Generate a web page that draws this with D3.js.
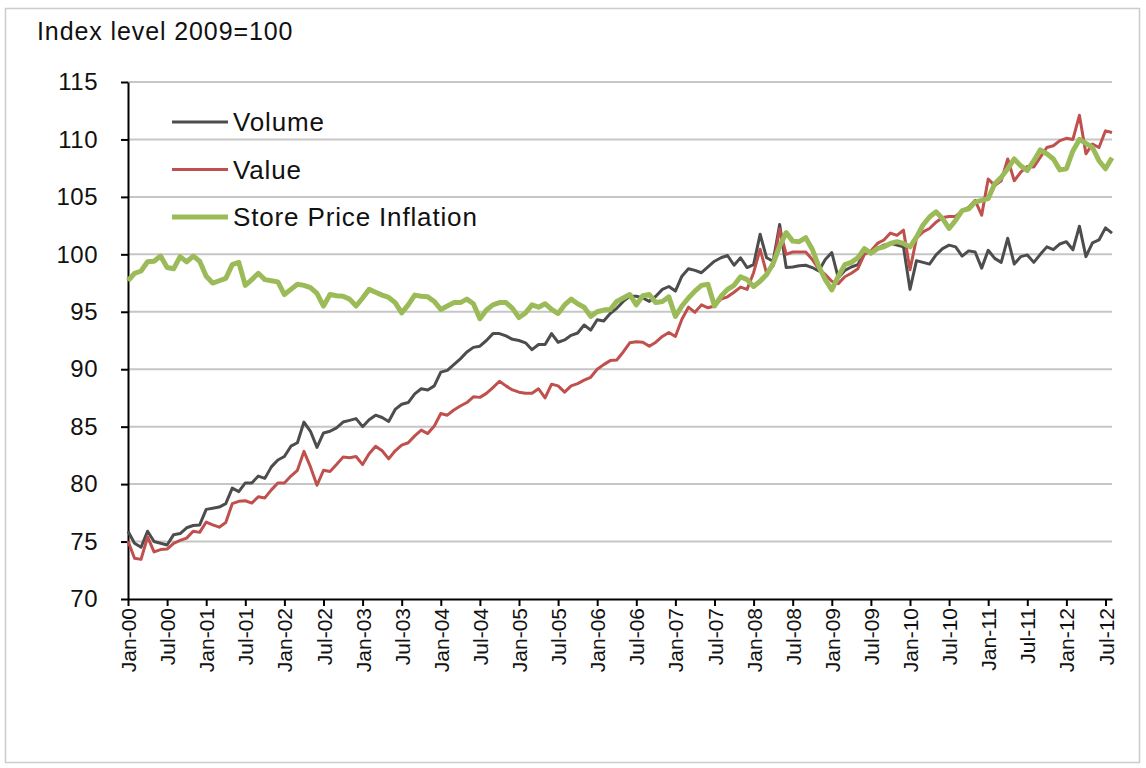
<!DOCTYPE html>
<html>
<head>
<meta charset="utf-8">
<script src="https://cdn.jsdelivr.net/npm/d3@7"></script>
<style>
  body { margin: 0; background: #fff; }
  svg { display: block; font-family: "Liberation Sans", Arial, sans-serif; }
</style>
</head>
<body>
<svg id="chart" width="1146" height="768"></svg>
<script>
// monthly index values, Jan-00 .. Aug-12
const years = ["00","01","02","03","04","05","06","07","08","09","10","11","12"];
const monthNames = ["Jan","Feb","Mar","Apr","May","Jun","Jul","Aug","Sep","Oct","Nov","Dec"];
const tickLabels = ["Jan-00","Jul-00","Jan-01","Jul-01","Jan-02","Jul-02","Jan-03","Jul-03",
  "Jan-04","Jul-04","Jan-05","Jul-05","Jan-06","Jul-06","Jan-07","Jul-07","Jan-08","Jul-08",
  "Jan-09","Jul-09","Jan-10","Jul-10","Jan-11","Jul-11","Jan-12","Jul-12"];
const yTicks = [70, 75, 80, 85, 90, 95, 100, 105, 110, 115];
const seriesNames = ["Volume", "Value", "Store Price Inflation"];

const volume = [
  75.9,74.85,74.5,75.9,75.0,74.85,74.7,75.6,75.7,76.2,76.4,76.45,
  77.8,77.9,78.0,78.3,79.65,79.35,80.1,80.1,80.7,80.5,81.5,82.1,
  82.4,83.3,83.6,85.4,84.6,83.2,84.45,84.6,84.9,85.4,85.55,85.7,
  85.0,85.6,86.0,85.8,85.45,86.5,86.95,87.1,87.85,88.3,88.2,88.55,
  89.75,89.9,90.4,90.9,91.5,91.9,92.0,92.5,93.1,93.1,92.9,92.6,
  92.5,92.3,91.7,92.15,92.15,93.1,92.35,92.55,92.95,93.15,93.85,93.4,
  94.3,94.2,94.85,95.3,95.9,96.35,96.35,96.2,95.9,96.35,96.95,97.2,
  96.8,98.1,98.75,98.6,98.4,98.9,99.4,99.7,99.9,99.05,99.7,98.85,
  99.1,101.75,99.7,99.4,102.6,98.85,98.9,99.0,99.05,98.85,98.55,99.55,
  100.15,97.95,98.6,98.9,99.1,100.2,100.2,100.5,100.8,100.95,100.8,100.65,
  96.95,99.45,99.3,99.15,99.95,100.5,100.8,100.65,99.85,100.3,100.2,98.8,
  100.35,99.65,99.3,101.4,99.15,99.8,99.95,99.3,100.0,100.65,100.4,100.9,
  101.1,100.4,102.45,99.8,101.0,101.25,102.3,101.85
];

const value = [
  75.05,73.55,73.45,75.4,74.1,74.3,74.35,74.85,75.1,75.3,75.9,75.8,
  76.7,76.45,76.25,76.65,78.3,78.5,78.55,78.35,78.9,78.8,79.5,80.1,
  80.1,80.7,81.2,82.85,81.5,79.9,81.2,81.1,81.7,82.35,82.3,82.4,
  81.7,82.65,83.3,82.9,82.2,82.9,83.4,83.6,84.2,84.7,84.4,85.05,
  86.15,86.0,86.45,86.8,87.1,87.6,87.55,87.9,88.4,88.95,88.55,88.2,
  88.0,87.9,87.9,88.3,87.5,88.7,88.55,88.0,88.55,88.75,89.05,89.3,
  90.0,90.4,90.75,90.8,91.5,92.3,92.4,92.35,92.0,92.35,92.85,93.2,
  92.85,94.35,95.4,94.95,95.6,95.35,95.5,96.1,96.3,96.7,97.15,96.95,
  98.4,100.45,98.35,99.0,102.2,100.0,100.2,100.2,100.2,99.55,98.7,98.25,
  97.65,97.45,98.05,98.35,98.75,100.0,100.3,100.95,101.25,101.85,101.65,102.1,
  98.65,101.4,101.95,102.25,102.8,103.2,103.3,103.3,103.8,104.1,104.7,103.4,
  106.55,106.0,106.4,108.3,106.4,107.15,107.65,107.6,108.45,109.3,109.45,109.9,
  110.1,110.0,112.1,108.75,109.6,109.3,110.75,110.6
];

const storePriceInflation = [
  97.7,98.35,98.55,99.35,99.4,99.85,98.85,98.75,99.8,99.35,99.85,99.4,
  98.1,97.5,97.7,97.9,99.1,99.3,97.3,97.8,98.35,97.8,97.7,97.6,
  96.5,96.95,97.4,97.3,97.1,96.6,95.5,96.5,96.4,96.35,96.1,95.5,
  96.2,96.95,96.7,96.45,96.25,95.8,94.9,95.6,96.45,96.35,96.3,95.9,
  95.2,95.5,95.8,95.8,96.1,95.7,94.4,95.15,95.6,95.8,95.8,95.3,
  94.5,94.9,95.6,95.4,95.7,95.2,94.85,95.6,96.1,95.7,95.4,94.6,
  95.0,95.15,95.2,95.9,96.2,96.5,95.6,96.4,96.5,95.8,95.9,96.3,
  94.6,95.5,96.2,96.8,97.3,97.4,95.5,96.35,96.95,97.3,98.05,97.8,
  97.2,97.65,98.25,99.2,100.7,101.9,101.15,101.1,101.45,100.45,98.95,97.8,
  96.9,98.1,99.1,99.3,99.7,100.5,100.1,100.5,100.65,100.95,101.1,100.95,
  100.65,101.5,102.55,103.25,103.7,103.1,102.25,102.95,103.8,103.95,104.55,104.7,
  104.85,106.15,106.7,107.45,108.3,107.7,107.3,108.15,109.1,108.75,108.3,107.35,
  107.45,109.0,110.0,109.65,109.3,108.15,107.45,108.4
];

// month categories
const months = [];
years.forEach(function (yr) {
  monthNames.forEach(function (m) { months.push(m + "-" + yr); });
});
months.length = volume.length;

const colors = ["#4d4d4d", "#c0504d", "#9bbb59"];
const widths = [3, 3, 5];
const seriesData = [volume, value, storePriceInflation];

const svg = d3.select("#chart");
const plotLeft = 128, plotRight = 1112, plotTop = 82, plotBottom = 599;

// outer frame
svg.append("rect")
  .attr("x", 5.5).attr("y", 8.5)
  .attr("width", 1134).attr("height", 754)
  .attr("fill", "none").attr("stroke", "#cccccc").attr("stroke-width", 1.5);

svg.append("text")
  .attr("x", 37).attr("y", 40)
  .attr("font-size", "25px")
  .attr("letter-spacing", "0.9px")
  .attr("fill", "#111")
  .text("Index level 2009=100");

const x = d3.scalePoint().domain(months).range([plotLeft, plotRight]);
const y = d3.scaleLinear().domain([70, 115]).range([plotBottom, plotTop]);

// gridlines
svg.append("g")
  .selectAll("line")
  .data(yTicks.filter(function (d) { return d > 70; }))
  .enter()
  .append("line")
  .attr("x1", plotLeft).attr("x2", plotRight)
  .attr("y1", function (d) { return y(d); })
  .attr("y2", function (d) { return y(d); })
  .attr("stroke", "#c6c6c6").attr("stroke-width", 2);

// y axis
const yAxis = svg.append("g")
  .attr("transform", "translate(" + plotLeft + ",0)")
  .call(d3.axisLeft(y).tickValues(yTicks).tickSize(7).tickPadding(23).tickSizeOuter(0));
yAxis.select(".domain").attr("stroke", "#000").attr("stroke-width", 2);
yAxis.selectAll(".tick line").attr("stroke", "#000").attr("stroke-width", 2);
yAxis.selectAll("text")
  .attr("font-size", "24px")
  .attr("letter-spacing", "0.5px")
  .attr("font-family", "'Liberation Sans', Arial, sans-serif")
  .attr("fill", "#111");

// x axis
const xAxis = svg.append("g")
  .attr("transform", "translate(0," + plotBottom + ")")
  .call(d3.axisBottom(x)
    .tickValues(tickLabels)
    .tickSize(7)
    .tickSizeOuter(0));
xAxis.select(".domain").attr("stroke", "#000").attr("stroke-width", 2);
xAxis.selectAll(".tick line").attr("stroke", "#000").attr("stroke-width", 2);
xAxis.selectAll("text")
  .attr("transform", "rotate(-90)")
  .attr("x", -9)
  .attr("y", 0)
  .attr("dy", "0.36em")
  .attr("font-size", "21px")
  .attr("font-family", "'Liberation Sans', Arial, sans-serif")
  .attr("fill", "#111")
  .style("text-anchor", "end");

// series lines
const line = d3.line()
  .x(function (d, i) { return x(months[i]); })
  .y(function (d) { return y(d); });

seriesData.forEach(function (s, k) {
  svg.append("path")
    .datum(s)
    .attr("d", line)
    .attr("fill", "none")
    .attr("stroke", colors[k])
    .attr("stroke-width", widths[k])
    .attr("stroke-linejoin", "round");
});

// legend
const legend = svg.append("g").attr("transform", "translate(172,122)");
seriesNames.forEach(function (name, k) {
  const row = legend.append("g").attr("transform", "translate(0," + k * 47.5 + ")");
  row.append("line")
    .attr("x1", 0).attr("x2", 56)
    .attr("stroke", colors[k])
    .attr("stroke-width", widths[k]);
  row.append("text")
    .attr("x", 61).attr("y", 0)
    .attr("dy", "0.35em")
    .attr("font-size", "26px")
    .attr("letter-spacing", "0.85px")
    .attr("fill", "#111")
    .text(name);
});
</script>
</body>
</html>
